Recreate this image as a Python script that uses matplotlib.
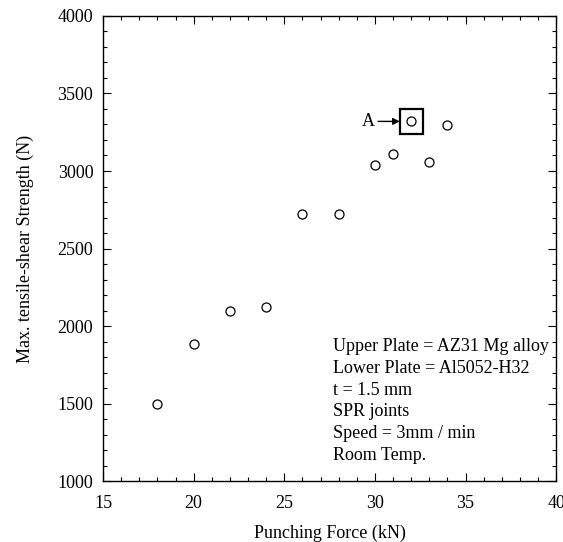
import matplotlib.pyplot as plt
from matplotlib.patches import Rectangle
from matplotlib.ticker import MultipleLocator

plt.rcParams["font.family"] = ["Liberation Serif", "DejaVu Serif"]

# Punching force (kN) vs max. tensile-shear strength (N)
force = [18, 20, 22, 24, 26, 28, 30, 31, 32, 33, 34]
strength = [1495, 1885, 2095, 2125, 2720, 2725, 3040, 3110, 3320, 3060, 3295]

notes = [
    "Upper Plate = AZ31 Mg alloy",
    "Lower Plate = Al5052-H32",
    "t = 1.5 mm",
    "SPR joints",
    "Speed = 3mm / min",
    "Room Temp.",
]

fig = plt.figure(figsize=(5.63, 5.42), dpi=100)
ax = fig.add_axes([0.183, 0.1125, 0.805, 0.858])

ax.plot(force, strength, "o", mfc="white", mec="black", ms=6.5, mew=0.9, ls="none")

ax.set_xlim(15, 40)
ax.set_ylim(1000, 4000)
ax.xaxis.set_major_locator(MultipleLocator(5))
ax.xaxis.set_minor_locator(MultipleLocator(1))
ax.yaxis.set_major_locator(MultipleLocator(500))
ax.yaxis.set_minor_locator(MultipleLocator(100))
ax.tick_params(which="both", direction="in", top=True, right=True, labelsize=13, width=0.8)
ax.tick_params(which="major", length=6)
ax.tick_params(which="minor", length=3)
ax.tick_params(axis="x", which="major", pad=10)
ax.tick_params(axis="y", which="major", pad=7)
for s in ax.spines.values():
    s.set_linewidth(1.0)

ax.set_xlabel("Punching Force (kN)", fontsize=13, labelpad=9)
ax.set_ylabel("Max. tensile-shear Strength (N)", fontsize=13, labelpad=17)

# highlight point A
ax.add_patch(Rectangle((31.37, 3240), 1.26, 162, fill=False, lw=1.6, ec="black"))
ax.annotate("A", xy=(31.37, 3320), xytext=(29.3, 3320), fontsize=13,
            va="center", ha="left",
            arrowprops=dict(arrowstyle="-|>", color="black", lw=1.0,
                            shrinkA=0, shrinkB=0, mutation_scale=10))

ax.text(27.7, 1925, "\n".join(notes), fontsize=13, va="top", ha="left",
        linespacing=1.38)

fig.savefig("out.png", dpi=100)
